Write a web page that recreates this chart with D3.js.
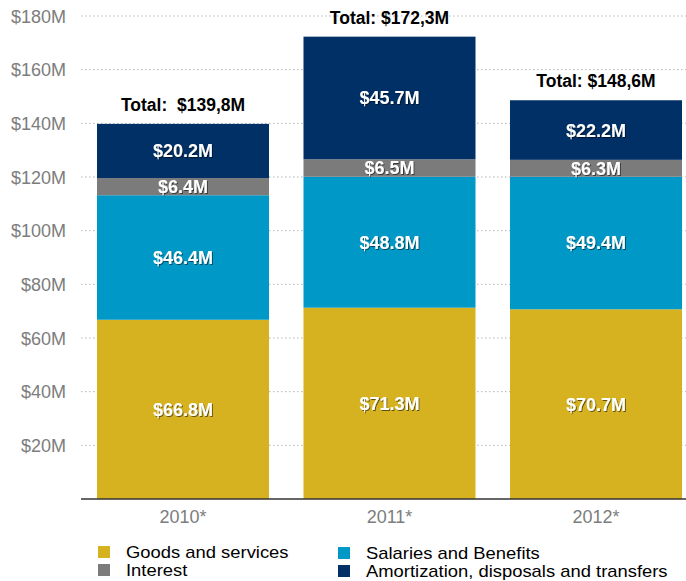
<!DOCTYPE html>
<html>
<head>
<meta charset="utf-8">
<script src="https://cdn.jsdelivr.net/npm/d3@7"></script>
<style>
  html, body { margin: 0; padding: 0; background: #fff; }
  svg { display: block; font-family: "Liberation Sans", Arial, Helvetica, sans-serif; }
</style>
</head>
<body>
<svg id="chart" width="686" height="581"></svg>
<script>
// Expense breakdown by year, in millions of dollars
const years = ["2010*", "2011*", "2012*"];
const seriesNames = ["Goods and services", "Salaries and Benefits", "Interest", "Amortization, disposals and transfers"];
const goods = [66.8, 71.3, 70.7];
const salaries = [46.4, 48.8, 49.4];
const interest = [6.4, 6.5, 6.3];
const amortization = [20.2, 45.7, 22.2];
const totalLabels = ["Total:  $139,8M", "Total: $172,3M", "Total: $148,6M"];
const yTicks = [20, 40, 60, 80, 100, 120, 140, 160, 180];

const colors = ["#D6B221", "#0099C7", "#7B7B7B", "#003066"];
const seriesValues = [goods, salaries, interest, amortization];

const rows = years.map((y, i) => {
  const r = { year: y };
  seriesNames.forEach((s, k) => { r[s] = seriesValues[k][i]; });
  return r;
});

const svg = d3.select("#chart");

const x = d3.scaleBand()
  .domain(years)
  .range([79.75, 699.25])
  .paddingInner(0.167)
  .paddingOuter(0.0835);

const y = d3.scaleLinear().domain([0, 180]).range([499, 16]);

// drop shadow for the white value labels
const defs = svg.append("defs");
const f = defs.append("filter").attr("id", "shadow")
  .attr("x", "-20%").attr("y", "-30%").attr("width", "140%").attr("height", "160%");
f.append("feDropShadow").attr("dx", 1).attr("dy", 1)
  .attr("stdDeviation", 0.6).attr("flood-color", "#000").attr("flood-opacity", 0.55);

// dotted grid lines
svg.append("g")
  .selectAll("line")
  .data(yTicks)
  .join("line")
  .attr("x1", 81).attr("x2", 686)
  .attr("y1", d => y(d)).attr("y2", d => y(d))
  .attr("stroke", "#b5b5b5")
  .attr("stroke-width", 1)
  .attr("stroke-dasharray", "1.5,2.5");

// y axis labels
const yAxis = d3.axisLeft(y).tickValues(yTicks).tickSize(0).tickPadding(0)
  .tickFormat(d => "$" + d + "M");
const yg = svg.append("g").attr("transform", "translate(66,0)").call(yAxis);
yg.select(".domain").remove();
yg.selectAll("text")
  .attr("fill", "#7d7d7d")
  .attr("font-size", 18)
  .attr("font-family", "Liberation Sans, Arial, sans-serif")
  .attr("dy", "0.35em");

// stacked bars
const stack = d3.stack().keys(seriesNames);
const layers = stack(rows);

const layerG = svg.append("g")
  .selectAll("g")
  .data(layers)
  .join("g")
  .attr("fill", (d, i) => colors[i]);

layerG.selectAll("rect")
  .data(d => d)
  .join("rect")
  .attr("x", d => x(d.data.year))
  .attr("width", x.bandwidth())
  .attr("y", d => y(d[1]))
  .attr("height", d => y(d[0]) - y(d[1]));

// value labels inside segments
svg.append("g")
  .selectAll("g")
  .data(layers)
  .join("g")
  .selectAll("text")
  .data(d => d.map(p => ({ p, key: d.key })))
  .join("text")
  .attr("x", d => x(d.p.data.year) + x.bandwidth() / 2)
  .attr("y", d => (y(d.p[0]) + y(d.p[1])) / 2)
  .attr("dy", "0.36em")
  .attr("text-anchor", "middle")
  .attr("fill", "#fff")
  .attr("font-weight", "bold")
  .attr("font-size", 18)
  .attr("filter", "url(#shadow)")
  .text(d => "$" + d.p.data[d.key].toFixed(1) + "M");

// totals above bars
const totals = rows.map(r => d3.sum(seriesNames, s => r[s]));
svg.append("g")
  .selectAll("text")
  .data(years)
  .join("text")
  .attr("x", d => x(d) + x.bandwidth() / 2)
  .attr("y", (d, i) => y(totals[i]) - 13)
  .attr("text-anchor", "middle")
  .attr("fill", "#000")
  .attr("font-weight", "bold")
  .attr("font-size", 17.5)
  .style("white-space", "pre")
  .attr("xml:space", "preserve")
  .text((d, i) => totalLabels[i]);

// x axis
const xAxis = d3.axisBottom(x).tickSize(0).tickPadding(8);
const xg = svg.append("g").attr("transform", "translate(0,499)").call(xAxis);
xg.select(".domain").remove();
xg.selectAll("text")
  .attr("fill", "#7d7d7d")
  .attr("font-size", 18)
  .attr("font-family", "Liberation Sans, Arial, sans-serif")
  .attr("dy", "0.9em");
svg.append("line")
  .attr("x1", 81).attr("x2", 686)
  .attr("y1", 499).attr("y2", 499)
  .attr("stroke", "#333")
  .attr("stroke-width", 1.5);

// legend: two columns, tightly stacked rows
const legendPos = [
  { x: 98, y: 546 },
  { x: 338, y: 547 },
  { x: 98, y: 564 },
  { x: 338, y: 565 }
];
const legend = svg.append("g")
  .selectAll("g")
  .data(seriesNames)
  .join("g")
  .attr("transform", (d, i) => `translate(${legendPos[i].x},${legendPos[i].y})`);
legend.append("rect")
  .attr("width", 12).attr("height", 12)
  .attr("fill", (d, i) => colors[i]);
legend.append("text")
  .attr("transform", "translate(28,11.5) scale(1.15,1)")
  .attr("font-size", 16)
  .attr("fill", "#000")
  .text(d => d);
</script>
</body>
</html>
